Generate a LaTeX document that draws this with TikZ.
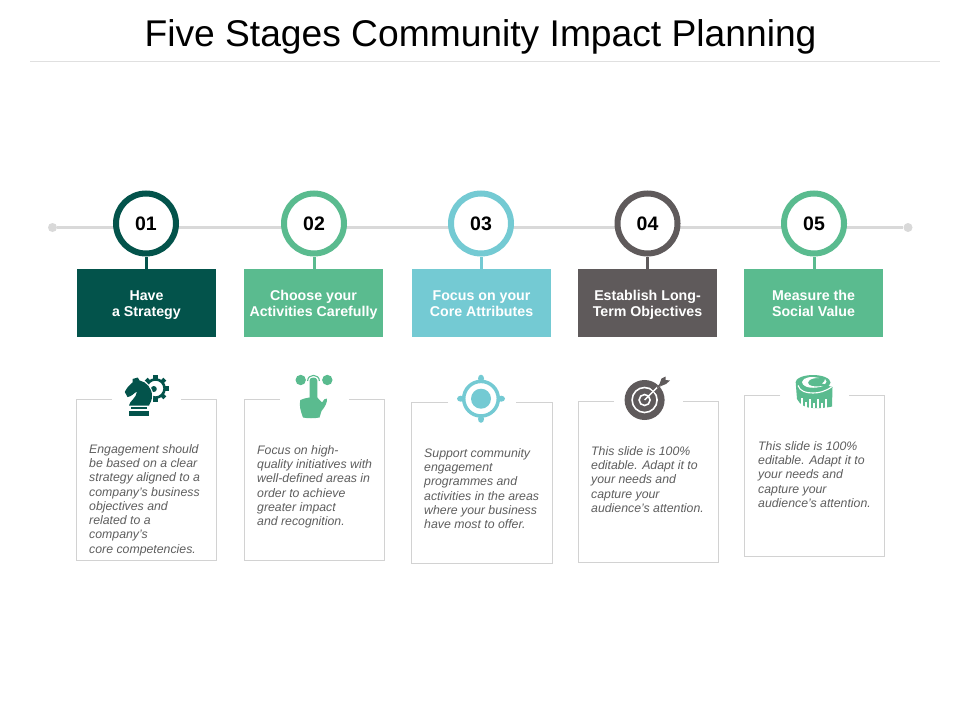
\documentclass[tikz,border=0pt]{standalone}
\usepackage{fontspec}
\setmainfont{Liberation Sans}
\definecolor{cdark}{HTML}{03534B}
\definecolor{cgreen}{HTML}{5ABB8F}
\definecolor{cblue}{HTML}{74CAD3}
\definecolor{cgrey}{HTML}{5F5A5B}
\definecolor{ctext}{HTML}{5E5E5E}
\definecolor{cline}{HTML}{D2D2D2}
\definecolor{ctrack}{HTML}{D9D9D9}
\newcommand\hfirst{\rule{0pt}{14.8pt}}
\newcommand\hlast{\rule[-4.8pt]{0pt}{0pt}}
\tikzset{
  numring/.style={circle,draw=#1,line width=6pt,fill=white,minimum size=60pt,inner sep=0pt,
    font=\fontsize{19.5}{22}\selectfont\bfseries,text=black},
  headbox/.style={rectangle,fill=#1,minimum width=139pt,minimum height=68pt,inner sep=0pt,
    text=white,align=center,font=\fontsize{14.2}{16}\selectfont\bfseries},
  stem/.style={draw=#1,line width=3pt},
  desc/.style={anchor=north west,inner sep=0pt,align=left,text=ctext,
    font=\fontsize{12.3}{14.3}\selectfont\itshape},
  frame/.style={draw=cline,line width=0.9pt},
  dot/.style={circle,fill=ctrack,minimum size=9pt,inner sep=0pt}
}
\begin{document}
\begin{tikzpicture}[x=1pt,y=-1pt]
\useasboundingbox (0,0) rectangle (960,720);
\fill[white] (0,0) rectangle (960,720);
% title
\node[anchor=base,inner sep=0pt,font=\fontsize{37.2}{40}\selectfont] (title) at (480.5,46.5) {Five Stages Community Impact Planning};
\coordinate (ruleL) at (30,61.5);
\coordinate (ruleR) at (940,61.5);
\draw[draw=black!12,line width=0.9pt] (ruleL) -- (ruleR);
% timeline
\node[dot] (startdot) at (52.5,227.5) {};
\node[dot] (enddot) at (908,227.5) {};
\draw[ctrack,line width=3.4pt] (startdot) -- (enddot);
% boxes
\node[headbox=cdark] (h1) at (146.5,303) {\hfirst Have\\a Strategy\hlast};
\node[headbox=cgreen] (h2) at (313.5,303) {\hfirst Choose your\\Activities Carefully\hlast};
\node[headbox=cblue] (h3) at (481.5,303) {\hfirst Focus on your\\Core Attributes\hlast};
\node[headbox=cgrey] (h4) at (647.5,303) {\hfirst Establish Long-\\Term Objectives\hlast};
\node[headbox=cgreen] (h5) at (813.5,303) {\hfirst Measure the\\Social Value\hlast};
% rings
\node[numring=cdark] (n1) at (146,223.5) {01};
\node[numring=cgreen] (n2) at (314,223.5) {02};
\node[numring=cblue] (n3) at (481,223.5) {03};
\node[numring=cgrey] (n4) at (647.5,223.5) {04};
\node[numring=cgreen] (n5) at (814,223.5) {05};
\draw[stem=cdark] (n1.south) -- (n1.south |- h1.north);
\draw[stem=cgreen] (n2.south) -- (n2.south |- h2.north);
\draw[stem=cblue] (n3.south) -- (n3.south |- h3.north);
\draw[stem=cgrey] (n4.south) -- (n4.south |- h4.north);
\draw[stem=cgreen] (n5.south) -- (n5.south |- h5.north);
% frames
\draw[frame] (112,399.5) -- (76.5,399.5) -- (76.5,560.5) -- (216.5,560.5) -- (216.5,399.5) -- (181,399.5);
\draw[frame] (280,399.5) -- (244.5,399.5) -- (244.5,560.5) -- (384.5,560.5) -- (384.5,399.5) -- (349,399.5);
\draw[frame] (448,402.5) -- (411.5,402.5) -- (411.5,563.5) -- (552.5,563.5) -- (552.5,402.5) -- (516,402.5);
\draw[frame] (614,401.5) -- (578.5,401.5) -- (578.5,562.5) -- (718.5,562.5) -- (718.5,401.5) -- (683,401.5);
\draw[frame] (780,395.5) -- (744.5,395.5) -- (744.5,556.5) -- (884.5,556.5) -- (884.5,395.5) -- (849,395.5);
% texts
\node[desc] (d1) at (89,444) {Engagement should\\be based on a clear\\strategy aligned to a\\company's business\\objectives and\\related to a\\company's\\core competencies.};
\node[desc] (d2) at (257,445) {Focus on high-\\quality initiatives with\\well-defined areas in\\order to achieve\\greater impact\\and recognition.};
\node[desc] (d3) at (424,448) {Support community\\engagement\\programmes and\\activities in the areas\\where your business\\have most to offer.};
\node[desc] (d4) at (591,446) {This slide is 100\%\\editable. Adapt it to\\your needs and\\capture your\\audience's attention.};
\node[desc] (d5) at (758,441) {This slide is 100\%\\editable. Adapt it to\\your needs and\\capture your\\audience's attention.};
% icon 1: gear and knight
\foreach \a in {0,45,...,315}
  \fill[cdark,rotate around={\a:(155.5,388.5)}] (153.4,375.3) rectangle (157.6,380);
\fill[cdark,even odd rule] (155.5,388.5) circle (10.4) (155.5,388.5) circle (7.8);
\fill[cdark] (153.8,389) circle (3);
\draw[white,line width=2.4pt,fill=cdark,line join=round]
  (137.8,377.5) -- (139.5,380.4)
  .. controls (146.5,382) and (152,388) .. (152,396)
  .. controls (152,400) and (150.5,403) .. (149,405.5)
  -- (129,405.5)
  .. controls (129.5,401) and (136.5,398) .. (137,391.5)
  .. controls (134,393) and (131,397) .. (127.5,397)
  -- (124.8,392)
  .. controls (126.5,388) and (129.5,385) .. (132.5,382.5)
  -- (132.5,379) -- cycle;
\fill[cdark] (137.8,377.5) -- (139.5,380.4)
  .. controls (146.5,382) and (152,388) .. (152,396)
  .. controls (152,400) and (150.5,403) .. (149,405.5)
  -- (129,405.5)
  .. controls (129.5,401) and (136.5,398) .. (137,391.5)
  .. controls (134,393) and (131,397) .. (127.5,397)
  -- (124.8,392)
  .. controls (126.5,388) and (129.5,385) .. (132.5,382.5)
  -- (132.5,379) -- cycle;
\fill[cdark] (130.5,407.2) rectangle (147,409.2);
\fill[cdark] (128.7,410.8) rectangle (149,416);
% icon 2: hand
\fill[cgreen] (300.7,380) circle (5.2);
\fill[cgreen] (327.3,380) circle (5.2);
\draw[cgreen,line width=1.1pt] (307.6,381) .. controls (307.6,373.5) and (319.4,373.5) .. (319.4,381);
\fill[cgreen] (309.5,380.5) .. controls (309.5,376.5) and (317.3,376.5) .. (317.3,380.5)
  -- (317.3,397.5) -- (322,402.5) .. controls (323.5,400) and (325,398) .. (327,398.5)
  .. controls (327.5,402) and (325,407) .. (321.5,411)
  -- (319.5,417.5) .. controls (314,418.5) and (308,418.5) .. (303,417.5)
  .. controls (300.5,411) and (299,405) .. (300.3,400)
  .. controls (303,398.5) and (307,398) .. (309.5,397.5) -- cycle;
% icon 3: crosshair
\draw[cblue,line width=3.5pt] (481,398.7) circle (17.3);
\fill[cblue] (481,398.7) circle (10);
\fill[cblue] (481,378.5) ellipse (3 and 3.8);
\fill[cblue] (481,419) ellipse (3 and 3.8);
\fill[cblue] (460.8,398.7) ellipse (3.8 and 3);
\fill[cblue] (501.2,398.7) ellipse (3.8 and 3);
% icon 4: target
\fill[cgrey] (644.6,400) circle (20);
\draw[white,line width=1.6pt] (644.6,400) circle (12.5);
\draw[white,line width=1.6pt] (644.6,400) circle (5.5);
\fill[cgrey] (650,387.5) -- (661,384.5) -- (657.5,395) -- cycle;
\draw[white,line width=1.4pt] (644.6,400) -- (660,384.5);
\draw[cgrey,line width=1.4pt] (657,387.5) -- (662,382.5);
\fill[cgrey] (659.5,384) -- (661.5,378.5) -- (665.5,376.5) -- (665.5,380) -- (670,380.5) -- (666,384) -- (661,386) -- cycle;
% icon 5: tape
\fill[cgreen] (795.8,384) -- (797,399) .. controls (800,405) and (806,408) .. (813,408)
  .. controls (820,408.5) and (828,407.5) .. (832,406.5) -- (832.5,387) -- (827,385.5) -- cycle;
\fill[cgreen] (813,382.5) ellipse (17.5 and 7.5);
\draw[white,line width=1.1pt] (798,385.5) .. controls (800,391.5) and (806,393) .. (813,393)
  .. controls (819,393) and (825,391.5) .. (831.5,387);
\fill[white] (802,382) .. controls (803,377) and (812,376) .. (819,378)
  .. controls (812,378) and (809,379.5) .. (808,382.5)
  .. controls (808,386) and (813,387) .. (823,386)
  .. controls (815,389) and (803,388.5) .. (802,382) -- cycle;
\fill[white] (822,383.5) .. controls (824,382.5) and (825,380.5) .. (825,379)
  .. controls (827,380.5) and (827,383) .. (825,384) -- cycle;
\foreach \x/\y in {802/398,806/402,810/399,814/403,818/399,822/403,826/399}
  \draw[white,line width=1.3pt] (\x,\y) -- (\x,408);
\end{tikzpicture}
\end{document}
